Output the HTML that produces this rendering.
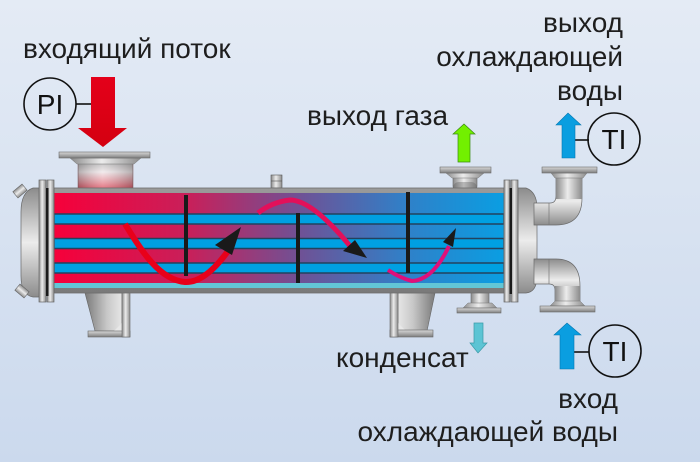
<!DOCTYPE html>
<html><head><meta charset="utf-8"><style>
html,body{margin:0;padding:0;}
body{width:700px;height:462px;overflow:hidden;}
svg{display:block;}
text{font-family:"Liberation Sans","DejaVu Sans",sans-serif;fill:#1e1e1e;}
</style></head><body>
<svg width="700" height="462" viewBox="0 0 700 462" xmlns="http://www.w3.org/2000/svg">
<defs>
<linearGradient id="bg" x1="0" y1="0" x2="0" y2="1">
<stop offset="0" stop-color="#e4ebf5"/><stop offset="1" stop-color="#cbd9ed"/></linearGradient>
<linearGradient id="fluid" x1="54" y1="0" x2="504" y2="0" gradientUnits="userSpaceOnUse">
<stop offset="0" stop-color="#f6003a"/><stop offset="0.3" stop-color="#c8205a"/>
<stop offset="0.55" stop-color="#6e5296"/><stop offset="0.78" stop-color="#3080c8"/>
<stop offset="1" stop-color="#0a9ee2"/></linearGradient>
<linearGradient id="mh" x1="0" y1="0" x2="1" y2="0">
<stop offset="0" stop-color="#8a8a8a"/><stop offset="0.45" stop-color="#ececec"/><stop offset="1" stop-color="#8c8c8c"/></linearGradient>
<linearGradient id="mv" x1="0" y1="0" x2="0" y2="1">
<stop offset="0" stop-color="#8c8c8c"/><stop offset="0.5" stop-color="#ececec"/><stop offset="1" stop-color="#8c8c8c"/></linearGradient>
<linearGradient id="flange" x1="0" y1="0" x2="0" y2="1">
<stop offset="0" stop-color="#d8d8d8"/><stop offset="1" stop-color="#7e7e7e"/></linearGradient>
<linearGradient id="shellb" x1="0" y1="0" x2="0" y2="1">
<stop offset="0" stop-color="#9a9a9a"/><stop offset="1" stop-color="#7a7a7a"/></linearGradient>
<linearGradient id="inlet" x1="0" y1="0" x2="0" y2="1">
<stop offset="0" stop-color="#bdbdbd"/><stop offset="0.3" stop-color="#f0e8ea"/><stop offset="0.65" stop-color="#e8949e"/><stop offset="1" stop-color="#d83448"/></linearGradient>
<linearGradient id="inleth" x1="0" y1="0" x2="1" y2="0">
<stop offset="0" stop-color="#000" stop-opacity="0.25"/><stop offset="0.45" stop-color="#fff" stop-opacity="0.15"/><stop offset="1" stop-color="#000" stop-opacity="0.25"/></linearGradient>
<linearGradient id="sup" x1="0" y1="0" x2="1" y2="0">
<stop offset="0" stop-color="#7a7a7a"/><stop offset="0.6" stop-color="#c8c8c8"/><stop offset="1" stop-color="#e6e6e6"/></linearGradient>
<linearGradient id="sup2" x1="1" y1="0" x2="0" y2="0">
<stop offset="0" stop-color="#7a7a7a"/><stop offset="0.6" stop-color="#c8c8c8"/><stop offset="1" stop-color="#e6e6e6"/></linearGradient>
<linearGradient id="redarr" x1="0" y1="0" x2="0" y2="1">
<stop offset="0" stop-color="#e4001a"/><stop offset="1" stop-color="#d40010"/></linearGradient>
</defs>
<rect width="700" height="462" fill="url(#bg)"/>

<!-- texts -->
<text x="23" y="58" font-size="28">входящий поток</text>
<text x="623" y="32" font-size="28" text-anchor="end">выход</text>
<text x="623" y="66" font-size="28" text-anchor="end">охлаждающей</text>
<text x="623" y="100" font-size="28" text-anchor="end">воды</text>
<text x="307" y="125" font-size="28">выход газа</text>
<text x="336" y="367" font-size="28">конденсат</text>
<text x="618" y="408" font-size="28" text-anchor="end">вход</text>
<text x="618" y="441" font-size="28" text-anchor="end">охлаждающей воды</text>

<!-- PI -->
<line x1="76" y1="104" x2="92" y2="104" stroke="#111" stroke-width="1.6"/>
<circle cx="50" cy="104" r="26" fill="none" stroke="#111" stroke-width="1.6"/>
<text x="50" y="114" font-size="28" text-anchor="middle" style="fill:#111">PI</text>
<!-- red inlet arrow -->
<polygon points="91,77 115,77 115,128 127,128 103,147 78,128 91,128" fill="url(#redarr)"/>

<!-- TI top -->
<line x1="575" y1="140" x2="589" y2="140" stroke="#111" stroke-width="1.6"/>
<circle cx="614" cy="139" r="26" fill="none" stroke="#111" stroke-width="1.6"/>
<text x="614" y="149" font-size="28" text-anchor="middle" style="fill:#111">TI</text>
<polygon points="562,158 575,158 575,125 581,125 568,113 556,125 562,125" fill="#0a9ee0" stroke="#0576b0" stroke-width="0.6"/>

<!-- TI bottom -->
<line x1="574" y1="352" x2="589" y2="352" stroke="#111" stroke-width="1.6"/>
<circle cx="615" cy="351" r="26" fill="none" stroke="#111" stroke-width="1.6"/>
<text x="615" y="361" font-size="28" text-anchor="middle" style="fill:#111">TI</text>
<polygon points="560,369 574,369 574,335 581,335 567,323 554,335 560,335" fill="#0a9ee0" stroke="#0576b0" stroke-width="0.6"/>

<!-- green gas arrow -->
<polygon points="458,162 470,162 470,134 475,134 464,124 453,134 458,134" fill="#72f000" stroke="#3a8a10" stroke-width="0.7"/>
<!-- cyan condensate arrow -->
<polygon points="474,323 483,323 483,343 487,343 478,353 470,343 474,343" fill="#5cc4d4" stroke="#3a9aa8" stroke-width="0.7"/>

<!-- inlet nozzle -->
<path d="M78,163 L133,163 L133,188 Q133,193 126,193 L85,193 Q78,193 78,188 Z" fill="url(#inlet)" stroke="#8a6a6e" stroke-width="0.6"/>
<path d="M78,163 L133,163 L133,188 Q133,193 126,193 L85,193 Q78,193 78,188 Z" fill="url(#inleth)"/>
<polygon points="70,158 141,158 134,164 77,164" fill="url(#mh)" stroke="#777" stroke-width="0.5"/>
<rect x="59" y="152" width="91" height="6" fill="url(#flange)" stroke="#6a6a6a" stroke-width="0.6"/>

<!-- gas outlet nozzle -->
<path d="M453,175 L477,175 L477,186 Q477,193 465,193 Q453,193 453,186 Z" fill="url(#mh)" stroke="#6a6a6a" stroke-width="0.6"/>
<rect x="453" y="182" width="24" height="11" rx="6" fill="#555" opacity="0.35"/>
<polygon points="446,173 484,173 478,178 452,178" fill="url(#mh)" stroke="#777" stroke-width="0.5"/>
<rect x="440" y="167" width="51" height="6" fill="url(#flange)" stroke="#6a6a6a" stroke-width="0.6"/>

<!-- small stub -->
<rect x="271" y="175" width="11" height="13" fill="url(#mh)" stroke="#555" stroke-width="0.6"/>
<line x1="271" y1="181" x2="282" y2="181" stroke="#555" stroke-width="0.6"/>

<!-- supports -->
<polygon points="85,293 122,293 122,331 95,331" fill="url(#sup)" stroke="#666" stroke-width="0.6"/>
<polygon points="114,331 122,323 122,331" fill="#e8e8e8"/>
<rect x="88" y="331" width="42" height="6" fill="url(#flange)" stroke="#666" stroke-width="0.6"/>
<rect x="122" y="283" width="8" height="54" fill="url(#mh)" stroke="#666" stroke-width="0.6"/>

<polygon points="398,293 435,293 427,331 398,331" fill="url(#sup2)" stroke="#666" stroke-width="0.6"/>
<polygon points="398,323 406,331 398,331" fill="#e8e8e8"/>
<rect x="390" y="330" width="43" height="7" fill="url(#flange)" stroke="#666" stroke-width="0.6"/>
<rect x="390" y="283" width="8" height="54" fill="url(#mh)" stroke="#666" stroke-width="0.6"/>

<!-- condensate nozzle -->
<path d="M471,304 L471,294 Q471,288 480,288 Q489,288 489,294 L489,304 Z" fill="url(#mh)" stroke="#6a6a6a" stroke-width="0.6"/>
<polygon points="468,303 492,303 497,308 463,308" fill="url(#mh)" stroke="#777" stroke-width="0.5"/>
<rect x="457" y="308" width="44" height="5" fill="url(#flange)" stroke="#6a6a6a" stroke-width="0.6"/>

<!-- shell -->
<rect x="54" y="188" width="450" height="105" fill="url(#shellb)"/>
<rect x="54" y="193" width="450" height="95" fill="url(#fluid)"/>
<rect x="54" y="283" width="450" height="5" fill="#62c6d6"/>
<g fill="#00a0e2" stroke="#23425e" stroke-width="1.5">
<rect x="54" y="214" width="450" height="10"/>
<rect x="54" y="238.5" width="450" height="10"/>
<rect x="54" y="263" width="450" height="10"/>
</g>
<rect x="54" y="188" width="450" height="105" fill="none" stroke="#6e6e6e" stroke-width="0.8"/>

<!-- baffles -->
<rect x="184" y="195" width="4" height="81" fill="#1a1a1a"/>
<rect x="296" y="213" width="4" height="70" fill="#1a1a1a"/>
<rect x="406" y="192" width="4" height="81" fill="#1a1a1a"/>

<!-- flow arrows -->
<path d="M125,224 C142,252 160,280 185,282 Q205,283 228,251" fill="none" stroke="#e8001a" stroke-width="6"/>
<polygon points="241,227 215,245 232,255" fill="#1a1a1a"/>
<path d="M258,213 Q272,202 290,200 Q312,200 350,246" fill="none" stroke="#e2105a" stroke-width="5"/>
<polygon points="367,258 343,251 355,240" fill="#1a1a1a"/>
<path d="M388,270 Q400,278 412,281 Q433,280 449,246" fill="none" stroke="#e0107a" stroke-width="4"/>
<polygon points="456,228 443,242 453,247" fill="#1a1a1a"/>

<!-- left head -->
<path d="M40,188 L33,188 Q21,192 21,212 L21,276 Q21,295 33,297 L40,297 Z" fill="url(#mv)" stroke="#6a6a6a" stroke-width="0.7"/>
<g transform="translate(20,191) rotate(-40)"><rect x="-6" y="-4" width="12" height="8" fill="url(#mv)" stroke="#666" stroke-width="0.6"/></g>
<g transform="translate(22,291) rotate(40)"><rect x="-6" y="-4" width="12" height="8" fill="url(#mv)" stroke="#666" stroke-width="0.6"/></g>
<rect x="39" y="180" width="7" height="122" fill="url(#mh)" stroke="#666" stroke-width="0.7"/>
<rect x="47" y="180" width="7" height="122" fill="url(#mh)" stroke="#666" stroke-width="0.7"/>
<rect x="46" y="188" width="2.5" height="108" fill="#1a1a1a"/>

<!-- right head -->
<path d="M518,188 L526,188 Q537,192 537,208 L537,276 Q537,292 526,293 L518,293 Z" fill="url(#mv)" stroke="#6a6a6a" stroke-width="0.7"/>
<rect x="504" y="180" width="6" height="122" fill="url(#mh)" stroke="#666" stroke-width="0.7"/>
<rect x="511" y="180" width="7" height="122" fill="url(#mh)" stroke="#666" stroke-width="0.7"/>
<rect x="509.5" y="188" width="2.5" height="106" fill="#1a1a1a"/>

<!-- upper elbow -->
<path d="M534,203 L550,203 Q556,203 556,196 L556,177 L582,177 L582,198 Q582,225 556,225 L534,225 Z" fill="url(#mv)" stroke="#6a6a6a" stroke-width="0.7"/>
<rect x="556" y="177" width="26" height="22" fill="url(#mh)"/>
<line x1="549" y1="203" x2="549" y2="225" stroke="#777" stroke-width="0.7"/>
<polygon points="551,173 587,173 583,178 555,178" fill="url(#mh)" stroke="#777" stroke-width="0.5"/>
<rect x="542" y="167" width="55" height="6" fill="url(#flange)" stroke="#6a6a6a" stroke-width="0.6"/>

<!-- lower elbow -->
<path d="M534,259 L556,259 Q580,259 580,286 L580,301 L555,301 L555,290 Q555,284 549,284 L534,284 Z" fill="url(#mv)" stroke="#6a6a6a" stroke-width="0.7"/>
<rect x="555" y="286" width="25" height="15" fill="url(#mh)"/>
<line x1="549" y1="259" x2="549" y2="284" stroke="#777" stroke-width="0.7"/>
<polygon points="555,301 580,301 585,306 550,306" fill="url(#mh)" stroke="#777" stroke-width="0.5"/>
<rect x="540" y="306" width="55" height="6" fill="url(#flange)" stroke="#6a6a6a" stroke-width="0.6"/>
</svg>
</body></html>
